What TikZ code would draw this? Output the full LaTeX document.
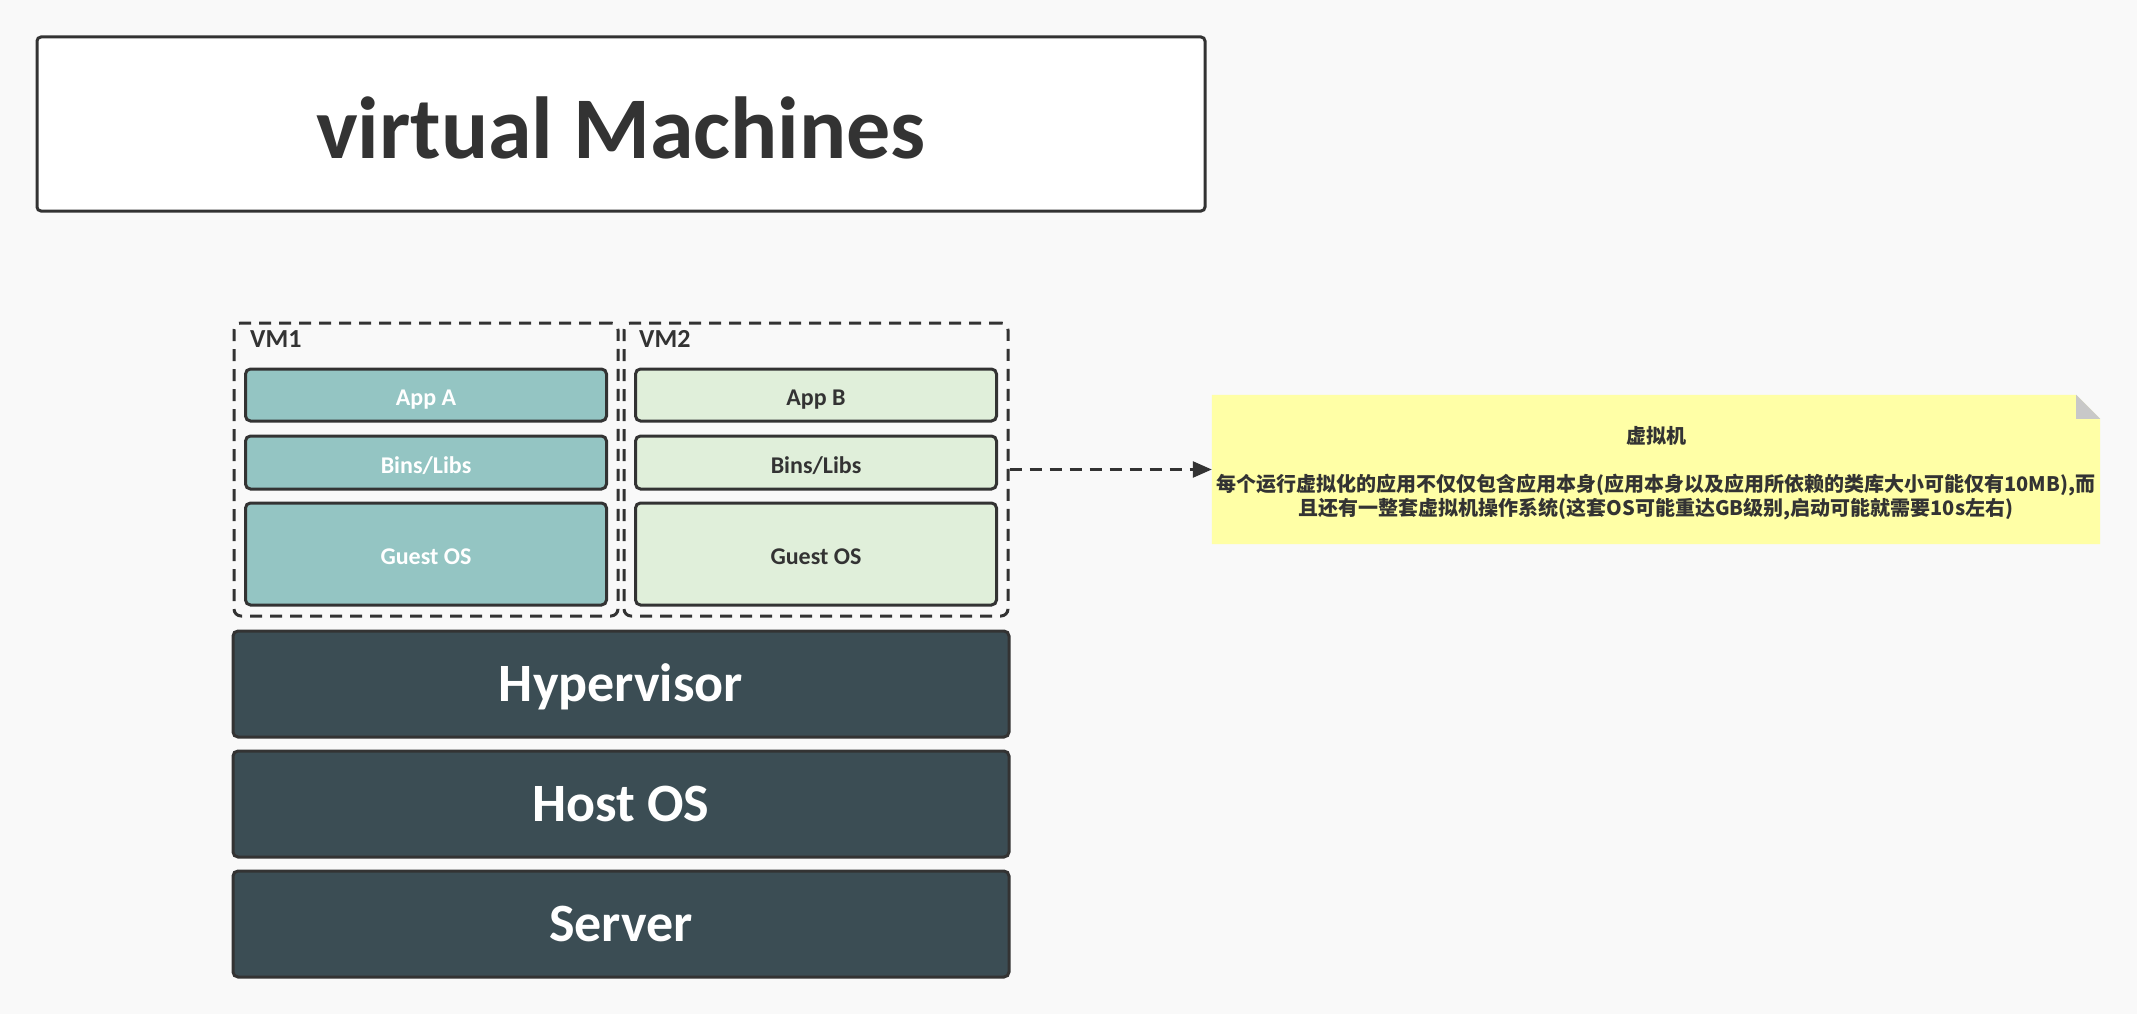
\documentclass[tikz,border=0pt]{standalone}
\usepackage{fontspec}
\setmainfont{Carlito}
\newfontfamily\cjk{Noto Sans CJK SC}
\usetikzlibrary{arrows.meta}
\definecolor{bgc}{HTML}{F9F9F9}
\definecolor{linec}{HTML}{333333}
\definecolor{tealc}{HTML}{94C5C3}
\definecolor{greenc}{HTML}{E0EFDA}
\definecolor{darkc}{HTML}{3B4D54}
\definecolor{notec}{HTML}{FFFFA6}
\definecolor{foldc}{HTML}{C8C8C8}
\begin{document}
\begin{tikzpicture}[x=1pt, y=-1pt,
  box/.style={draw=linec, line width=3pt, rounded corners=5pt, inner sep=0pt, minimum width=361pt, text height=21pt, text depth=0pt, font=\bfseries\fontsize{24}{27}\selectfont},
  vmA/.style={box, fill=tealc, text=white},
  vmB/.style={box, fill=greenc, text=linec},
  base/.style={draw=linec, line width=3pt, rounded corners=5pt, inner sep=0pt, fill=darkc, text=white, minimum width=776pt, minimum height=106pt, text height=35pt, text depth=0pt, font=\bfseries\fontsize{54}{60}\selectfont},
  vmbox/.style={draw=linec, dash pattern=on 12pt off 8pt, line width=3pt, rounded corners=7pt, inner sep=0pt, minimum width=384pt, minimum height=293pt},
  vmlabel/.style={anchor=base west, text=linec, inner sep=0pt, font=\bfseries\fontsize{26}{30}\selectfont}]
\fill[bgc] (0,0) rectangle (2137,1014);
\node[draw=linec, line width=3pt, rounded corners=4pt, fill=white, minimum width=1168pt, minimum height=174pt, text height=70pt, text depth=0pt, text=linec, font=\bfseries\fontsize{88}{96}\selectfont] (title) at (621,124) {virtual Machines};
\node[vmbox] (vm1) at (426,469.5) {};
\node[vmbox] (vm2) at (816,469.5) {};
\node[vmlabel] (vm1lbl) at (250,347) {VM1};
\node[vmlabel] (vm2lbl) at (639,347) {VM2};
\node[vmA, minimum height=52pt] (appa) at (426,395) {App A};
\node[vmA, minimum height=53pt] (libsa) at (426,462.5) {Bins/Libs};
\node[vmA, minimum height=102pt] (gosa) at (426,554) {Guest OS};
\node[vmB, minimum height=52pt] (appb) at (816,395) {App B};
\node[vmB, minimum height=53pt] (libsb) at (816,462.5) {Bins/Libs};
\node[vmB, minimum height=102pt] (gosb) at (816,554) {Guest OS};
\node[base] (hyper) at (621,684) {Hypervisor};
\node[base] (host) at (621,804) {Host OS};
\node[base] (server) at (621,924) {Server};
\node[inner sep=0pt, minimum width=888pt, minimum height=149pt] (note) at (1656,469.5) {};
\fill[notec] (note.north west) -- ([xshift=-24pt]note.north east) -- ([yshift=-24pt]note.north east) -- (note.south east) -- (note.south west) -- cycle;
\fill[foldc] ([xshift=-24pt]note.north east) -- ([yshift=-24pt]note.north east) -- ([xshift=-24pt, yshift=-24pt]note.north east) -- cycle;
\node[align=center, text=linec, font=\cjk\bfseries\fontsize{20}{24}\selectfont] (notetxt) at (1656,473) {虚拟机\\ \\ 每个运行虚拟化的应用不仅仅包含应用本身(应用本身以及应用所依赖的类库大小可能仅有10MB),而\\ 且还有一整套虚拟机操作系统(这套OS可能重达GB级别,启动可能就需要10s左右)};
\draw[linec, dash pattern=on 12pt off 8pt, line width=2.5pt, -{Triangle[length=19pt, width=16pt]}] (vm2.east) -- (note.west);
\end{tikzpicture}
\end{document}
